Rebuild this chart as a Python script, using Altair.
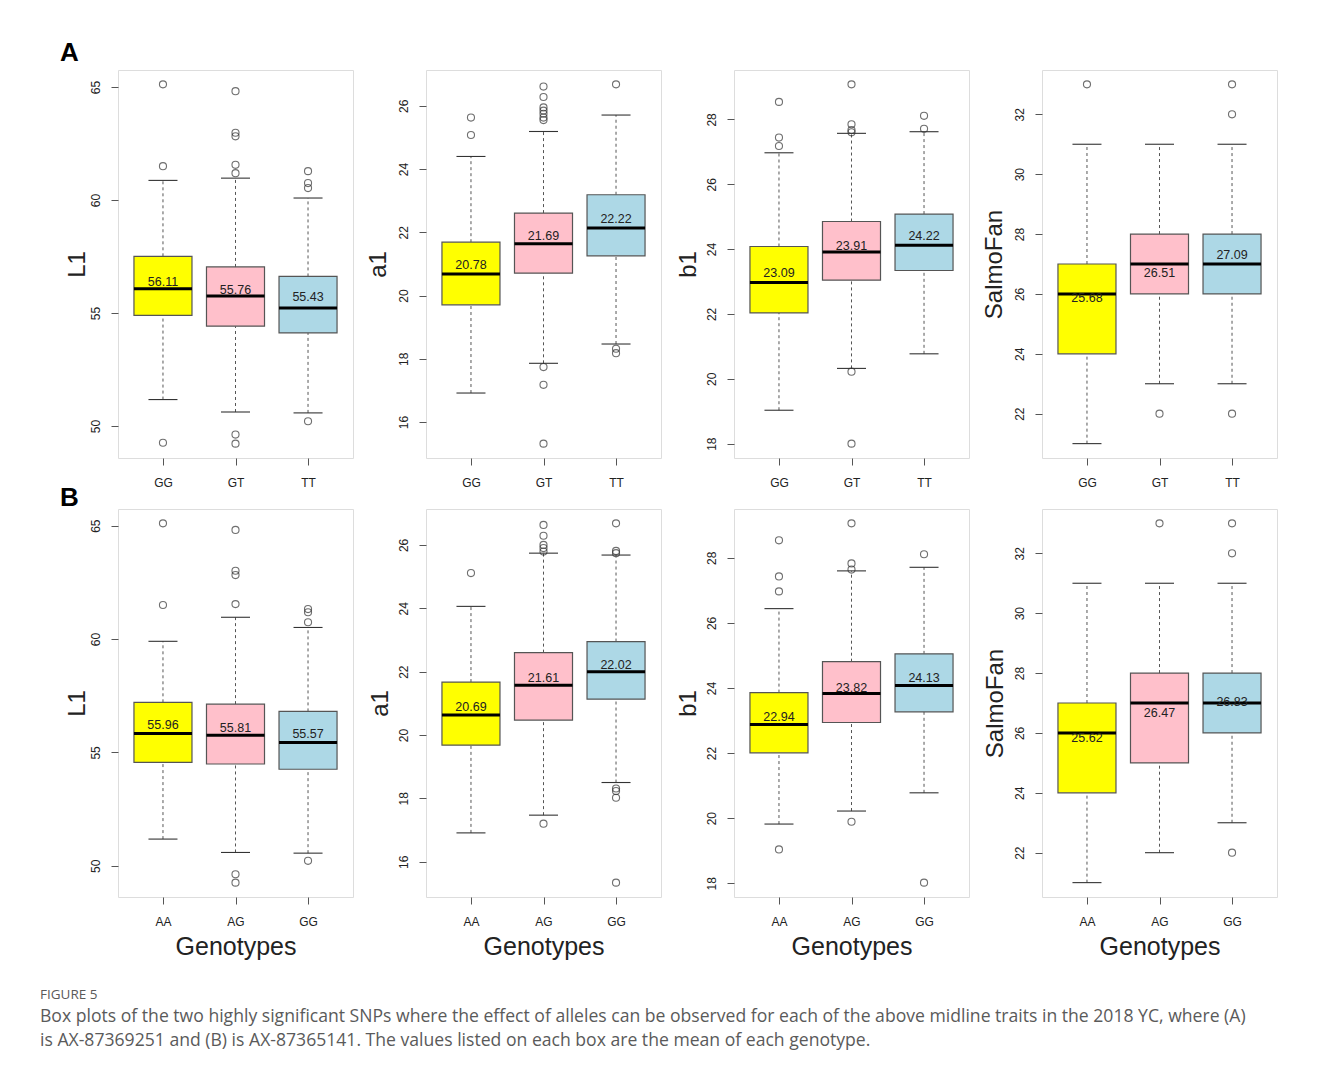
import altair as alt
import pandas as pd

# ---------------- data ----------------
GENO_A = ["GG", "GT", "TT"]
GENO_B = ["AA", "AG", "GG"]
FILLS = ["#FFFF00", "#FFC0CB", "#ADD8E6"]

TICKS_L1 = [50, 55, 60, 65]
TICKS_A1 = [16, 18, 20, 22, 24, 26]
TICKS_B1 = [18, 20, 22, 24, 26, 28]
TICKS_SF = [22, 24, 26, 28, 30, 32]

# Row A (AX-87369251)
A_L1 = dict(lower=[51.17, 50.62, 50.58], q1=[54.90, 54.42, 54.12], median=[56.08, 55.75, 55.22],
            q3=[57.51, 57.04, 56.62], upper=[60.87, 60.97, 60.09], mean=[56.11, 55.76, 55.43])
A_L1_OUT = [[65.12, 61.50, 49.26], [64.82, 62.98, 62.82, 61.56, 61.19, 49.62, 49.22], [61.28, 60.75, 60.53, 50.21]]

A_A1 = dict(lower=[16.92, 17.86, 18.47], q1=[19.71, 20.71, 21.26], median=[20.68, 21.64, 22.14],
            q3=[21.69, 22.61, 23.19], upper=[24.40, 25.19, 25.71], mean=[20.78, 21.69, 22.22])
A_A1_OUT = [[25.63, 25.08], [26.61, 26.28, 25.95, 25.85, 25.75, 25.63, 25.55, 17.74, 17.18, 15.32], [26.68, 18.32, 18.18]]

A_B1 = dict(lower=[19.03, 20.32, 20.77], q1=[22.03, 23.04, 23.34], median=[22.97, 23.91, 24.12],
            q3=[24.08, 24.85, 25.08], upper=[26.97, 27.57, 27.62], mean=[23.09, 23.91, 24.22])
A_B1_OUT = [[28.54, 27.44, 27.18], [29.08, 27.85, 27.67, 27.60, 20.22, 18.00], [28.11, 27.71]]

A_SF = dict(lower=[21, 23, 23], q1=[24, 26, 26], median=[26, 27, 27],
            q3=[27, 28, 28], upper=[31, 31, 31], mean=[25.68, 26.51, 27.09])
A_SF_OUT = [[33], [22], [33, 32, 22]]

# Row B (AX-87365141)
B_L1 = dict(lower=[51.18, 50.59, 50.56], q1=[54.56, 54.49, 54.26], median=[55.84, 55.76, 55.44],
            q3=[57.21, 57.13, 56.81], upper=[59.90, 60.96, 60.51], mean=[55.96, 55.81, 55.57])
B_L1_OUT = [[65.10, 61.50], [64.81, 63.01, 62.82, 61.54, 49.63, 49.26], [61.32, 61.18, 60.74, 50.22]]

B_A1 = dict(lower=[16.91, 17.47, 18.50], q1=[19.68, 20.47, 21.13], median=[20.63, 21.57, 22.00],
            q3=[21.67, 22.60, 22.95], upper=[24.06, 25.74, 25.68], mean=[20.69, 21.61, 22.02])
B_A1_OUT = [[25.11], [26.63, 26.29, 26.00, 25.90, 25.79, 17.20], [26.68, 25.81, 25.74, 18.31, 18.23, 18.02, 15.34]]

B_B1 = dict(lower=[19.82, 20.22, 20.78], q1=[22.01, 22.94, 23.27], median=[22.88, 23.83, 24.08],
            q3=[23.86, 24.81, 25.05], upper=[26.44, 27.60, 27.71], mean=[22.94, 23.82, 24.13])
B_B1_OUT = [[28.54, 27.43, 26.97, 19.04], [29.06, 27.83, 27.64, 19.89], [28.11, 18.02]]

B_SF = dict(lower=[21, 22, 23], q1=[24, 25, 26], median=[26, 27, 27],
            q3=[27, 28, 28], upper=[31, 31, 31], mean=[25.62, 26.47, 26.83])
B_SF_OUT = [[], [33], [33, 32, 22]]

CAPTION_TITLE = "FIGURE 5"
CAPTION_LINES = [
    "Box plots of the two highly significant SNPs where the effect of alleles can be observed for each of the above midline traits in the 2018 YC, where (A)",
    "is AX-87369251 and (B) is AX-87365141. The values listed on each box are the mean of each genotype.",
]

# ---------------- styling ----------------
W, H = 235, 388
FONT = "Liberation Sans"
INK = "#222222"
EDGE = "#555555"


def panel(stats, outs, genos, trait, ticks, title_dist, row_label=None, label_offset=0, xtitle=""):
    box_df = pd.DataFrame({"idx": [1, 2, 3], "geno": genos, "fill": FILLS, **stats})
    out_rows = [{"idx": i + 1, "value": v} for i, vs in enumerate(outs) for v in vs]
    out_df = pd.DataFrame(out_rows, columns=["idx", "value"])
    allv = list(stats["lower"]) + list(stats["upper"]) + [r["value"] for r in out_rows]
    lo, hi = min(allv), max(allv)
    pad = 0.04 * (hi - lo)

    xs = alt.Scale(domain=[0.38, 3.62], nice=False, zero=False)
    ys = alt.Scale(domain=[lo - pad, hi + pad], nice=False, zero=False)
    lab = "[" + ",".join("'%s'" % g for g in genos) + "][datum.value - 1]"
    xaxis = alt.Axis(values=[1, 2, 3], labelExpr=lab, title=xtitle, grid=False, domain=False,
                     tickSize=7, tickColor=EDGE, labelPadding=21.5, labelBaseline="alphabetic",
                     labelFontSize=12, labelColor=INK, labelFont=FONT, labelFlush=False,
                     titleFont=FONT, titleFontSize=25, titleFontWeight="normal", titleColor=INK,
                     titleX=W / 2, titleY=57, titleBaseline="alphabetic", titleAlign="center")
    yaxis = alt.Axis(values=ticks, title=trait, grid=False, domain=False, tickSize=7, tickColor=EDGE,
                     labelAngle=270, labelAlign="center", labelBaseline="alphabetic", labelPadding=11.7,
                     labelFontSize=12, labelColor=INK, labelFont=FONT, labelFlush=False, labelOverlap=False,
                     titleFont=FONT, titleFontSize=24, titleFontWeight="normal", titleColor=INK,
                     titleAngle=270, titleAlign="center", titleBaseline="alphabetic",
                     titleX=-(title_dist - 0.358 * 24), titleY=H / 2)

    base = alt.Chart(box_df).transform_calculate(
        xl="datum.idx - 0.4", xr="datum.idx + 0.4", cl="datum.idx - 0.2", cr="datum.idx + 0.2")

    def X(f):
        return alt.X(f, type="quantitative", scale=xs, axis=xaxis)

    def Y(f):
        return alt.Y(f, type="quantitative", scale=ys, axis=yaxis)

    w_up = base.mark_rule(color=EDGE, strokeWidth=1, strokeDash=[3, 3]).encode(
        x=X("idx"), y=Y("q3"), y2="upper")
    w_lo = base.mark_rule(color=EDGE, strokeWidth=1, strokeDash=[3, 3]).encode(
        x=X("idx"), y=Y("lower"), y2="q1")
    cap_up = base.mark_rule(color="#333333", strokeWidth=1.1).encode(x=X("cl"), x2="cr", y=Y("upper"))
    cap_lo = base.mark_rule(color="#333333", strokeWidth=1.1).encode(x=X("cl"), x2="cr", y=Y("lower"))
    boxes = base.mark_rect(stroke=EDGE, strokeWidth=1.2).encode(
        x=X("xl"), x2="xr", y=Y("q1"), y2="q3",
        fill=alt.Fill("fill:N", scale=None))
    med = base.mark_rule(color="#000000", strokeWidth=3).encode(x=X("xl"), x2="xr", y=Y("median"))
    txt = base.mark_text(font=FONT, fontSize=12.5, color=INK, baseline="alphabetic", dy=-2).encode(
        x=X("idx"), y=Y("mean"), text=alt.Text("mean:Q", format=".2f"))
    pts = alt.Chart(out_df).mark_point(shape="circle", filled=False, size=50, color="#333333",
                                       strokeWidth=1.1).encode(x=X("idx"), y=Y("value"))

    ch = alt.layer(w_up, w_lo, cap_up, cap_lo, boxes, med, txt, pts).properties(width=W, height=H)
    if row_label:
        ch = ch.properties(title=alt.TitleParams(row_label, anchor="start", frame="group", dx=-58,
                                                 offset=label_offset, fontSize=26, fontWeight="bold",
                                                 font=FONT, baseline="alphabetic", color="#000000"))
    return ch


panels = [
    panel(A_L1, A_L1_OUT, GENO_A, "L1", TICKS_L1, 42.5, row_label="A", label_offset=-17),
    panel(A_A1, A_A1_OUT, GENO_A, "a1", TICKS_A1, 49),
    panel(A_B1, A_B1_OUT, GENO_A, "b1", TICKS_B1, 47.5),
    panel(A_SF, A_SF_OUT, GENO_A, "SalmoFan", TICKS_SF, 49),
    panel(B_L1, B_L1_OUT, GENO_B, "L1", TICKS_L1, 42, row_label="B", label_offset=-23, xtitle="Genotypes"),
    panel(B_A1, B_A1_OUT, GENO_B, "a1", TICKS_A1, 47.5, xtitle="Genotypes"),
    panel(B_B1, B_B1_OUT, GENO_B, "b1", TICKS_B1, 47, xtitle="Genotypes"),
    panel(B_SF, B_SF_OUT, GENO_B, "SalmoFan", TICKS_SF, 48.5, xtitle="Genotypes"),
]

caption = alt.TitleParams(
    text=CAPTION_TITLE, subtitle=CAPTION_LINES, orient="bottom", anchor="start", frame="group",
    dx=-78, offset=28, font="Open Sans", fontSize=13.5, fontWeight="normal", color="#5a5a5a",
    subtitleFont="Open Sans", subtitleFontSize=17.6, subtitleColor="#5a5a5a",
    subtitleLineHeight=24, subtitlePadding=7)

chart = alt.concat(*panels, columns=4, spacing={"row": 51, "column": 73}, bounds="flush").properties(
    title=caption, padding={"left": 32, "top": 31, "right": 10, "bottom": 10}
).configure_view(stroke=EDGE, strokeWidth=1.2).configure(background="white")

chart.save("out.html", embed_options={"renderer": "svg", "actions": False})
